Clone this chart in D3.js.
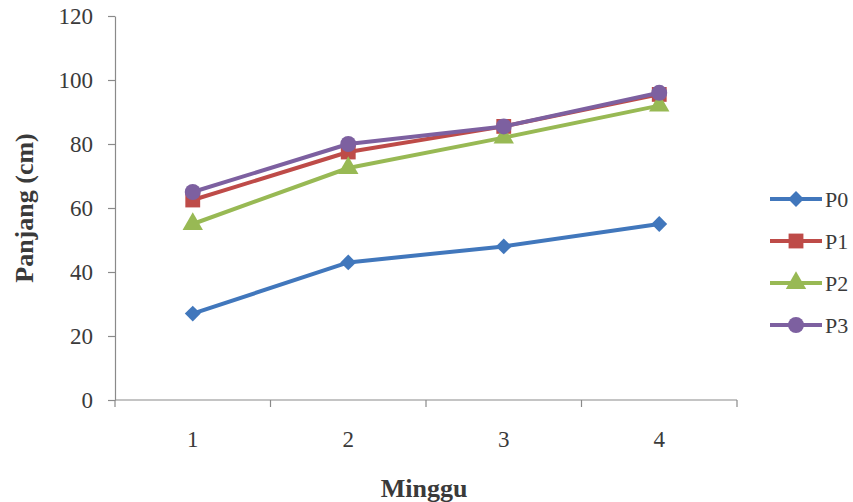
<!DOCTYPE html>
<html>
<head>
<meta charset="utf-8">
<script src="https://cdn.jsdelivr.net/npm/d3@7/dist/d3.min.js"></script>
<style>
  html, body { margin: 0; padding: 0; background: #fff; }
  svg { display: block; }
  text { font-family: "Liberation Serif", "Times New Roman", serif; }
</style>
</head>
<body>
<svg id="chart" width="853" height="502"></svg>
<script>
// Weekly plant length per treatment
const weeks = ["1", "2", "3", "4"];
const seriesNames = ["P0", "P1", "P2", "P3"];
const P0 = [27, 43, 48, 55];
const P1 = [62.5, 77.5, 85.5, 95.5];
const P2 = [55, 72.5, 82, 92];
const P3 = [65, 80, 85.5, 96];
const yTicks = [0, 20, 40, 60, 80, 100, 120];
const colors = ["#4177BC", "#BE4B48", "#98B954", "#7D60A0"];
const markers = ["diamond", "square", "triangle", "circle"];

const series = seriesNames.map((name, i) => ({
  name, values: [P0, P1, P2, P3][i], color: colors[i], marker: markers[i]
}));

const svg = d3.select("#chart");
const plotLeft = 115, plotRight = 737, plotTop = 16, plotBottom = 400;

const x = d3.scaleBand().domain(weeks).range([plotLeft, plotRight]);
const y = d3.scaleLinear().domain([0, 120]).range([plotBottom, plotTop]);

const axisColor = "#8a8a8a";
const textColor = "#3a3a3a";

// Y axis
const yAxis = svg.append("g")
  .attr("transform", `translate(${plotLeft},0)`)
  .call(d3.axisLeft(y).tickValues(yTicks).tickSize(7).tickPadding(15).tickSizeOuter(0));
yAxis.select(".domain").attr("stroke", axisColor).attr("stroke-width", 1.2);
yAxis.selectAll(".tick line").attr("stroke", axisColor).attr("stroke-width", 1.2);
yAxis.selectAll(".tick text")
  .attr("font-size", 23).attr("fill", textColor)
  .attr("font-family", "Liberation Serif, serif");

// X axis with ticks at category boundaries
const xAxis = svg.append("g").attr("transform", `translate(0,${plotBottom})`);
xAxis.append("line")
  .attr("x1", plotLeft).attr("x2", plotRight).attr("y1", 0).attr("y2", 0)
  .attr("stroke", axisColor).attr("stroke-width", 1.2);
const boundaries = weeks.map(w => x(w)).concat([x(weeks[weeks.length - 1]) + x.bandwidth()]);
xAxis.selectAll("line.tk").data(boundaries).join("line")
  .attr("class", "tk")
  .attr("x1", d => d).attr("x2", d => d).attr("y1", 0).attr("y2", 7)
  .attr("stroke", axisColor).attr("stroke-width", 1.2);
xAxis.selectAll("text.lbl").data(weeks).join("text")
  .attr("class", "lbl")
  .attr("x", d => x(d) + x.bandwidth() / 2)
  .attr("y", 47)
  .attr("text-anchor", "middle")
  .attr("font-size", 23).attr("fill", textColor)
  .text(d => d);

// Axis titles
svg.append("text")
  .attr("transform", "translate(33,208) rotate(-90)")
  .attr("text-anchor", "middle")
  .attr("font-size", 26).attr("font-weight", "bold").attr("fill", textColor)
  .text("Panjang (cm)");
svg.append("text")
  .attr("x", 424).attr("y", 497)
  .attr("text-anchor", "middle")
  .attr("font-size", 26).attr("font-weight", "bold").attr("fill", textColor)
  .text("Minggu");

// Marker symbols
const symbolFor = {
  diamond: d3.symbol().type(d3.symbolDiamond2).size(160),
  square: d3.symbol().type(d3.symbolSquare).size(220),
  triangle: d3.symbol().type(d3.symbolTriangle).size(180),
  circle: d3.symbol().type(d3.symbolCircle).size(200)
};

const line = d3.line()
  .x((d, i) => x(weeks[i]) + x.bandwidth() / 2)
  .y(d => y(d));

const plot = svg.append("g");
series.forEach(s => {
  const g = plot.append("g");
  g.append("path")
    .attr("d", line(s.values))
    .attr("fill", "none")
    .attr("stroke", s.color)
    .attr("stroke-width", 4)
    .attr("stroke-linejoin", "round");
  g.selectAll("path.mk").data(s.values).join("path")
    .attr("class", "mk")
    .attr("d", symbolFor[s.marker])
    .attr("transform", (d, i) => `translate(${x(weeks[i]) + x.bandwidth() / 2},${y(d)})`)
    .attr("fill", s.color);
});

// Legend
const legend = svg.append("g");
const legendY = [199, 241, 283, 325];
series.forEach((s, i) => {
  const g = legend.append("g").attr("transform", `translate(0,${legendY[i]})`);
  g.append("line")
    .attr("x1", 770).attr("x2", 822).attr("y1", 0).attr("y2", 0)
    .attr("stroke", s.color).attr("stroke-width", 4);
  g.append("path")
    .attr("d", symbolFor[s.marker])
    .attr("transform", "translate(796,0)")
    .attr("fill", s.color);
  g.append("text")
    .attr("x", 825).attr("y", 8)
    .attr("font-size", 22).attr("fill", textColor)
    .text(s.name);
});
</script>
</body>
</html>
